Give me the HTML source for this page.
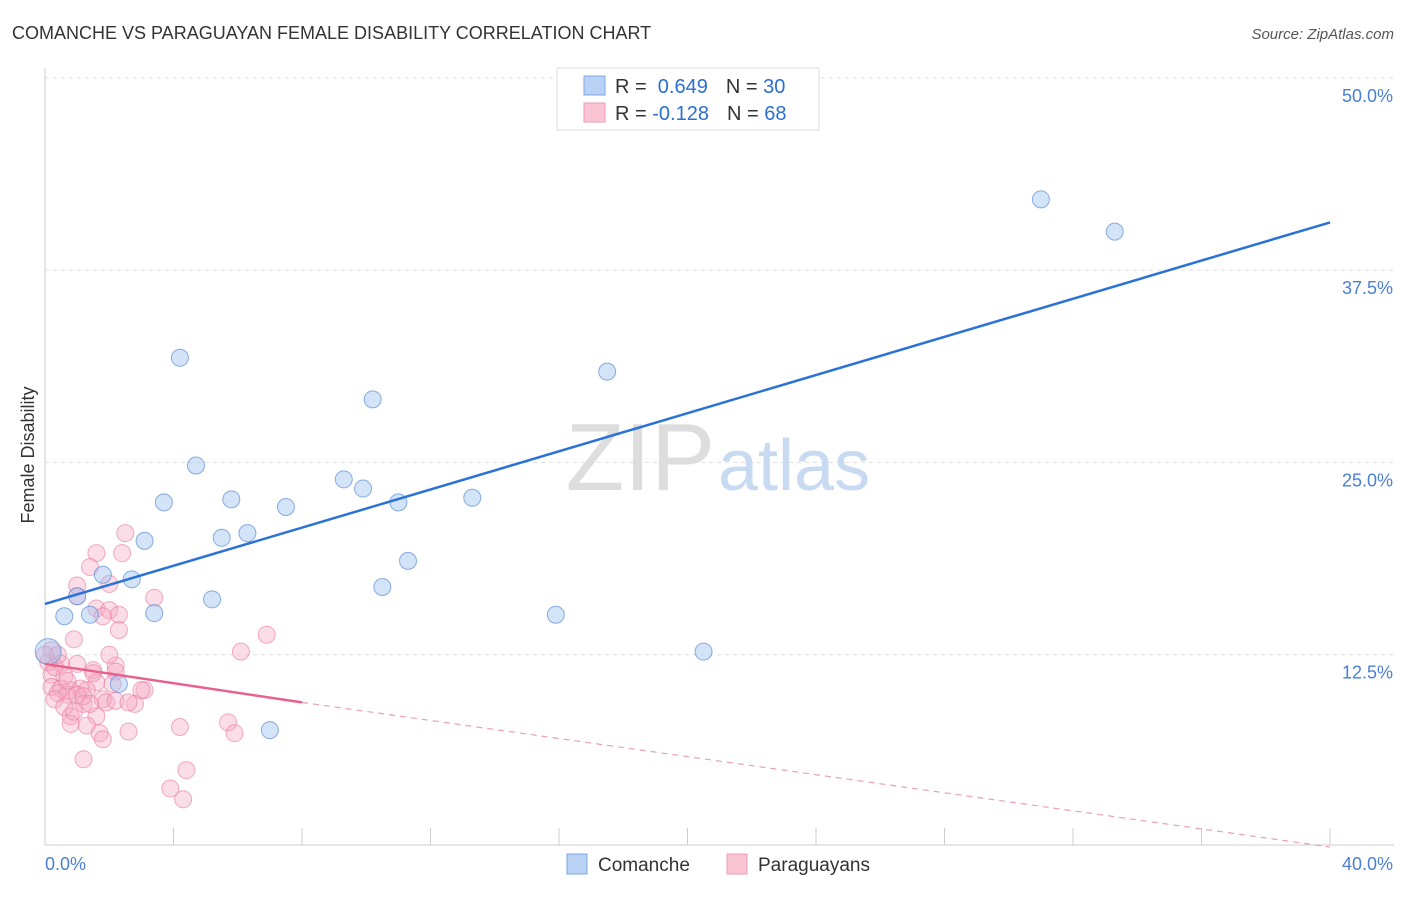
<!DOCTYPE html>
<html><head><meta charset="utf-8"><style>
body{margin:0;background:#fff;font-family:"Liberation Sans",sans-serif;}
svg text{font-family:"Liberation Sans",sans-serif;}
</style></head><body>
<svg id="chart" width="1406" height="892" xmlns="http://www.w3.org/2000/svg">
<text x="12" y="39" font-size="18" fill="#333">COMANCHE VS PARAGUAYAN FEMALE DISABILITY CORRELATION CHART</text>
<text x="1394" y="39" font-size="15" fill="#555" font-style="italic" text-anchor="end">Source: ZipAtlas.com</text>
<text transform="translate(34,455) rotate(-90)" font-size="18" fill="#333" text-anchor="middle">Female Disability</text>
<g id="grid"></g>
<text x="715" y="490" font-size="96" font-family="Liberation Serif" fill="#ddd" text-anchor="end">ZIP</text>
<text x="718" y="490" font-size="72" fill="#c8d9f2">atlas</text>
<g id="pts"></g>
<g id="lines"></g>
<g>
<rect x="557" y="68" width="262" height="62" fill="#fff" stroke="#ddd"/>
<rect x="584" y="76" width="21" height="19" fill="#b9d2f4" stroke="#7aa7e4"/>
<rect x="584" y="103" width="21" height="19" fill="#f9c4d4" stroke="#ee9ab5"/>
<text x="615" y="93" font-size="20" fill="#333">R = <tspan fill="#2b6fd0">&#160;0.649</tspan><tspan dx="18">N = </tspan><tspan fill="#2b6fd0">30</tspan></text>
<text x="615" y="120" font-size="20" fill="#333">R = <tspan fill="#2b6fd0">-0.128</tspan><tspan dx="18">N = </tspan><tspan fill="#2b6fd0">68</tspan></text>
</g>
<g>
<rect x="567" y="854" width="20" height="20" fill="#b9d2f4" stroke="#7aa7e4"/>
<text x="598" y="871" font-size="19" fill="#333">Comanche</text>
<rect x="727" y="854" width="20" height="20" fill="#f9c4d4" stroke="#ee9ab5"/>
<text x="758" y="871" font-size="19" fill="#333">Paraguayans</text>
</g>
</svg>
<script>
const xTicks=[0,40];
const yTicks=[12.5,25,37.5,50];
const comX=[31,33.3,4.2,17.5,10.2,4.7,9.3,9.9,5.8,3.7,7.5,11,13.3,3.1,5.5,6.3,11.3,10.5,1.8,2.7,1,5.2,3.4,0.6,1.4,15.9,20.5,2.3,7,0.1];
const comY=[42.1,40,31.8,30.9,29.1,24.8,23.9,23.3,22.6,22.4,22.1,22.4,22.7,19.9,20.1,20.4,18.6,16.9,17.7,17.4,16.3,16.1,15.2,15,15.1,15.1,12.7,10.6,7.6,12.7];
const parX=[2.5,1.6,2.4,1.4,2,1,1,3.4,1.6,2,2.3,1.8,2.3,6.9,0.9,6.1,0.2,0.1,0.5,1,2.2,1.5,2.2,0.2,0.6,1.6,2.1,0.2,0.5,0.8,1.1,1.3,3.1,0.4,0.7,1,1.8,1.9,0.3,2.8,1.2,1.6,0.8,0.8,1.3,4.2,5.7,5.9,2.6,1.7,1.8,1.2,4.4,3.9,4.3,0.3,0.7,1.2,1.5,2,0,2.2,0.6,3,0.4,2.6,1.4,0.9];
const parY=[20.4,19.1,19.1,18.2,17.1,17,16.3,16.2,15.5,15.4,15.1,15,14.1,13.8,13.5,12.7,12.8,12,11.9,11.9,11.8,11.5,11.4,11.2,11.1,10.7,10.6,10.4,10.3,10.2,10.3,10.2,10.2,10,9.9,9.9,9.6,9.4,9.6,9.3,9.3,8.5,8.5,8,7.9,7.8,8.1,7.4,7.5,7.4,7,5.7,5,3.8,3.1,11.7,10.8,9.8,11.3,12.5,12.5,9.5,9.1,10.2,12.5,9.4,9.3,8.8];
const X=v=>45+v/40*1285, Y=v=>847-v/12.5*192.3;
const NS="http://www.w3.org/2000/svg";
function mk(t,a,p){const e=document.createElementNS(NS,t);for(const k in a)e.setAttribute(k,a[k]);p.appendChild(e);return e;}
const grid=document.getElementById('grid');
mk('line',{x1:45,y1:68,x2:45,y2:845,stroke:'#ccc'},grid);
mk('line',{x1:45,y1:845,x2:1394,y2:845,stroke:'#ccc'},grid);
for(let i=0;i<=10;i++){const l=mk('line',{x1:X(i*4),y1:828,x2:X(i*4),y2:845,stroke:'#ccc'},grid);

}
yTicks.forEach(v=>{const l=mk('line',{x1:45,y1:Y(v),x2:1394,y2:Y(v),stroke:'#ddd','stroke-dasharray':'4,4'},grid);


const t=mk('text',{x:1393,y:Y(v)+24,'font-size':18,fill:'#4a7fd4','text-anchor':'end'},grid);t.textContent=v.toFixed(1)+'%';

});
xTicks.forEach((v,i)=>{const t=mk('text',{x:i?1393:45,y:870,'font-size':18,fill:'#4a7fd4','text-anchor':i?'end':'start'},grid);t.textContent=v.toFixed(1)+'%';

});
const pts=document.getElementById('pts');
parX.forEach((x,i)=>{const c=mk('circle',{cx:X(x),cy:Y(parY[i]),r:8.5,fill:'rgba(246,170,196,0.4)',stroke:'rgba(232,120,158,0.6)'},pts);

});
comX.forEach((x,i)=>{const c=mk('circle',{cx:X(x),cy:Y(comY[i]),r:i==29?13:8.5,fill:'rgba(160,196,240,0.45)',stroke:'rgba(90,140,215,0.7)'},pts);

});
const ln=document.getElementById('lines');
let b=mk('line',{x1:X(0),y1:Y(15.8),x2:X(40),y2:Y(40.6),stroke:'#2b72d6','stroke-width':2.5},ln);


let p=mk('line',{x1:X(0),y1:Y(11.9),x2:X(8),y2:Y(9.4),stroke:'#e8628f','stroke-width':2.5},ln);


let pd=mk('line',{x1:X(8),y1:Y(9.4),x2:X(40),y2:Y(0),stroke:'#e8a0b8','stroke-width':1.2,'stroke-dasharray':'6,5'},ln);


</script>
</body></html>
